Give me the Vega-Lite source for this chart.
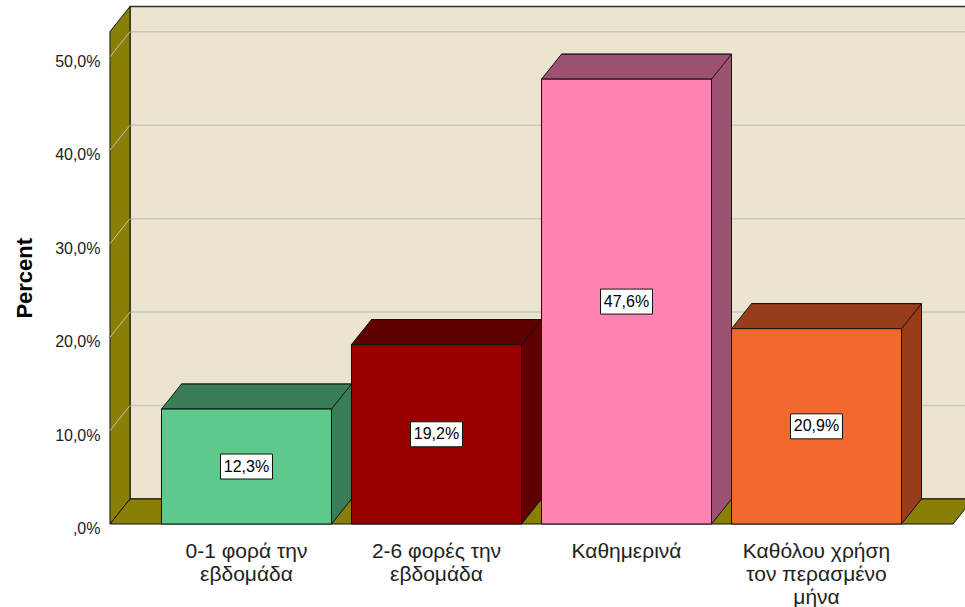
{
  "$schema": "https://vega.github.io/schema/vega-lite/v6.json",
  "width": 843,
  "height": 492.5,
  "autosize": {"type": "none"},
  "padding": {"left": 110, "top": 31.5, "right": 12, "bottom": 83},
  "background": "white",
  "config": {"view": {"stroke": null}, "font": "Liberation Sans"},
  "datasets": {
    "bars": [
      {"cat": "0-1 φορά την εβδομάδα", "pct": 12.3},
      {"cat": "2-6 φορές την εβδομάδα", "pct": 19.2},
      {"cat": "Καθημερινά", "pct": 47.6},
      {"cat": "Καθόλου χρήση τον περασμένο μήνα", "pct": 20.9}
    ],
    "grid": [{"v": 10}, {"v": 20}, {"v": 30}, {"v": 40}, {"v": 50}],
    "one": [{"k": 1}]
  },
  "resolve": {"scale": {"y": "independent"}},
  "layer": [
    {
      "layer": [
        {
          "data": {"name": "one"},
          "mark": {"type": "rect", "fill": "#EBE5D0", "stroke": "#333333", "strokeWidth": 1.5, "xOffset": 20, "x2Offset": 20, "yOffset": -25, "y2Offset": -25},
          "encoding": {"x": {"value": 0}, "x2": {"value": "width"}, "y": {"value": 0}, "y2": {"value": "height"}}
        },
        {
          "data": {"name": "grid"},
          "mark": {"type": "rule", "stroke": "#C9C6BC", "strokeWidth": 1.5, "xOffset": 20, "x2Offset": 20, "yOffset": -25},
          "encoding": {
            "x": {"value": 0},
            "x2": {"value": "width"},
            "y": {"field": "v", "type": "quantitative", "scale": {"domain": [0, 52.7], "nice": false, "zero": true}}
          }
        },
        {
          "data": {"name": "one"},
          "mark": {"type": "point", "shape": "M 0 0 L 0 -4.925 L 0.2 -5.175 L 0.2 -0.25 Z", "size": 40000, "filled": true, "fill": "#8A7F06", "stroke": "#111111", "strokeWidth": 1, "opacity": 1},
          "encoding": {
            "x": {"value": 0},
            "y": {"datum": 0, "type": "quantitative", "scale": {"domain": [0, 52.7], "nice": false, "zero": true}}
          }
        },
        {
          "data": {"name": "grid"},
          "mark": {"type": "rule", "stroke": "#C4C2B0", "strokeWidth": 1, "x2Offset": 20, "y2Offset": -25},
          "encoding": {
            "x": {"value": 0},
            "x2": {"value": 0},
            "y": {"field": "v", "type": "quantitative", "scale": {"domain": [0, 52.7], "nice": false, "zero": true}},
            "y2": {"field": "v"}
          }
        },
        {
          "data": {"name": "one"},
          "mark": {"type": "point", "shape": "M 0 0 L 0.2 -0.25 L 8.63 -0.25 L 8.43 0 Z", "size": 40000, "filled": true, "fill": "#8A7F06", "stroke": "#111111", "strokeWidth": 1, "opacity": 1},
          "encoding": {
            "x": {"value": 0},
            "y": {"datum": 0, "type": "quantitative", "scale": {"domain": [0, 52.7], "nice": false, "zero": true}}
          }
        },
        {
          "data": {"name": "bars"},
          "mark": {"type": "bar", "stroke": "#111111", "strokeWidth": 1, "xOffset": 20, "yOffset": -25, "y2Offset": -25},
          "encoding": {
            "x": {"field": "cat", "type": "nominal", "sort": null},
            "y": {"field": "pct", "type": "quantitative", "scale": {"domain": [0, 52.7], "nice": false, "zero": true}},
            "fill": {"field": "cat", "type": "nominal", "sort": null, "legend": null, "scale": {"domain": ["0-1 φορά την εβδομάδα", "2-6 φορές την εβδομάδα", "Καθημερινά", "Καθόλου χρήση τον περασμένο μήνα"], "range": ["#3A7D56", "#5E0000", "#9C5270", "#973D1A"]}}
          }
        },
        {
          "data": {"name": "bars"},
          "mark": {"type": "point", "shape": "M -0.85 0 L 0.85 0 L 1.05 -0.25 L -0.65 -0.25 Z", "size": 40000, "filled": true, "stroke": "#111111", "strokeWidth": 1, "opacity": 1},
          "encoding": {
            "x": {"field": "cat", "type": "nominal", "sort": null},
            "y": {"field": "pct", "type": "quantitative", "scale": {"domain": [0, 52.7], "nice": false, "zero": true}},
            "fill": {"field": "cat", "type": "nominal", "sort": null, "legend": null}
          }
        },
        {
          "data": {"name": "bars"},
          "mark": {"type": "point", "shape": "M 0.845 0.01 L 1.045 -0.243 L 1.045 -0.265 L 0.845 -0.265 Z", "size": 40000, "filled": true, "strokeWidth": 0, "opacity": 1},
          "encoding": {
            "x": {"field": "cat", "type": "nominal", "sort": null},
            "y": {"datum": 0, "type": "quantitative", "scale": {"domain": [0, 52.7], "nice": false, "zero": true}},
            "fill": {"field": "cat", "type": "nominal", "sort": null, "legend": null}
          }
        },
        {
          "data": {"name": "bars"},
          "mark": {"type": "point", "shape": "M 0.85 0 L 1.05 -0.25", "size": 40000, "filled": false, "stroke": "#111111", "strokeWidth": 1, "opacity": 1},
          "encoding": {
            "x": {"field": "cat", "type": "nominal", "sort": null},
            "y": {"datum": 0, "type": "quantitative", "scale": {"domain": [0, 52.7], "nice": false, "zero": true}}
          }
        },
        {
          "data": {"name": "bars"},
          "mark": {"type": "bar", "stroke": "#111111", "strokeWidth": 1},
          "encoding": {
            "x": {
              "field": "cat", "type": "nominal", "sort": null,
              "scale": {"paddingInner": 0.105263, "paddingOuter": 0.27105},
              "axis": {
                "title": null, "domain": false, "ticks": false, "tickSize": 0, "grid": false,
                "labelAngle": 0, "labelAlign": "center", "labelFontSize": 21, "labelColor": "#222222", "labelPadding": 16.4,
                "labelBaseline": "top", "labelLineHeight": 23, "labelLimit": 300,
                "labelExpr": "datum.label == '0-1 φορά την εβδομάδα' ? ['0-1 φορά την', 'εβδομάδα'] : datum.label == '2-6 φορές την εβδομάδα' ? ['2-6 φορές την', 'εβδομάδα'] : datum.label == 'Καθόλου χρήση τον περασμένο μήνα' ? ['Καθόλου χρήση', 'τον περασμένο', 'μήνα'] : datum.label"
              }
            },
            "y": {
              "field": "pct", "type": "quantitative",
              "scale": {"domain": [0, 52.7], "nice": false, "zero": true},
              "axis": {
                "title": "Percent", "titleFontSize": 22, "titleFontWeight": "bold", "titleColor": "#000000",
                "titleAngle": -90, "titleX": -79, "titleY": 246.25, "titleAlign": "center", "titleBaseline": "alphabetic",
                "domain": false, "ticks": false, "tickSize": 0, "grid": false,
                "values": [0, 10, 20, 30, 40, 50],
                "labelFontSize": 16, "labelColor": "#222222", "labelPadding": 10, "labelOffset": 4.5,
                "labelExpr": "datum.value == 0 ? ',0%' : replace(format(datum.value, '.1f'), '.', ',') + '%'"
              }
            },
            "color": {"field": "cat", "type": "nominal", "sort": null, "legend": null, "scale": {"domain": ["0-1 φορά την εβδομάδα", "2-6 φορές την εβδομάδα", "Καθημερινά", "Καθόλου χρήση τον περασμένο μήνα"], "range": ["#5DC98B", "#990000", "#FF84B4", "#F2682E"]}}
          }
        }
      ]
    },
    {
      "data": {"name": "bars"},
      "layer": [
        {
          "mark": {"type": "point", "shape": "M -0.26 -0.125 L 0.26 -0.125 L 0.26 0.125 L -0.26 0.125 Z", "size": 40000, "filled": true, "fill": "#FFFFFF", "stroke": "#111111", "strokeWidth": 1, "opacity": 1},
          "encoding": {
            "x": {"field": "cat", "type": "nominal", "sort": null},
            "y": {"field": "pct", "type": "quantitative", "scale": {"domain": [0, 105.4], "nice": false, "zero": true}, "axis": null}
          }
        },
        {
          "mark": {"type": "text", "fontSize": 16, "color": "#000000", "align": "center", "baseline": "middle", "text": {"expr": "replace(format(datum.pct, '.1f'), '.', ',') + '%'"}},
          "encoding": {
            "x": {"field": "cat", "type": "nominal", "sort": null},
            "y": {"field": "pct", "type": "quantitative", "scale": {"domain": [0, 105.4], "nice": false, "zero": true}, "axis": null}
          }
        }
      ]
    }
  ]
}
